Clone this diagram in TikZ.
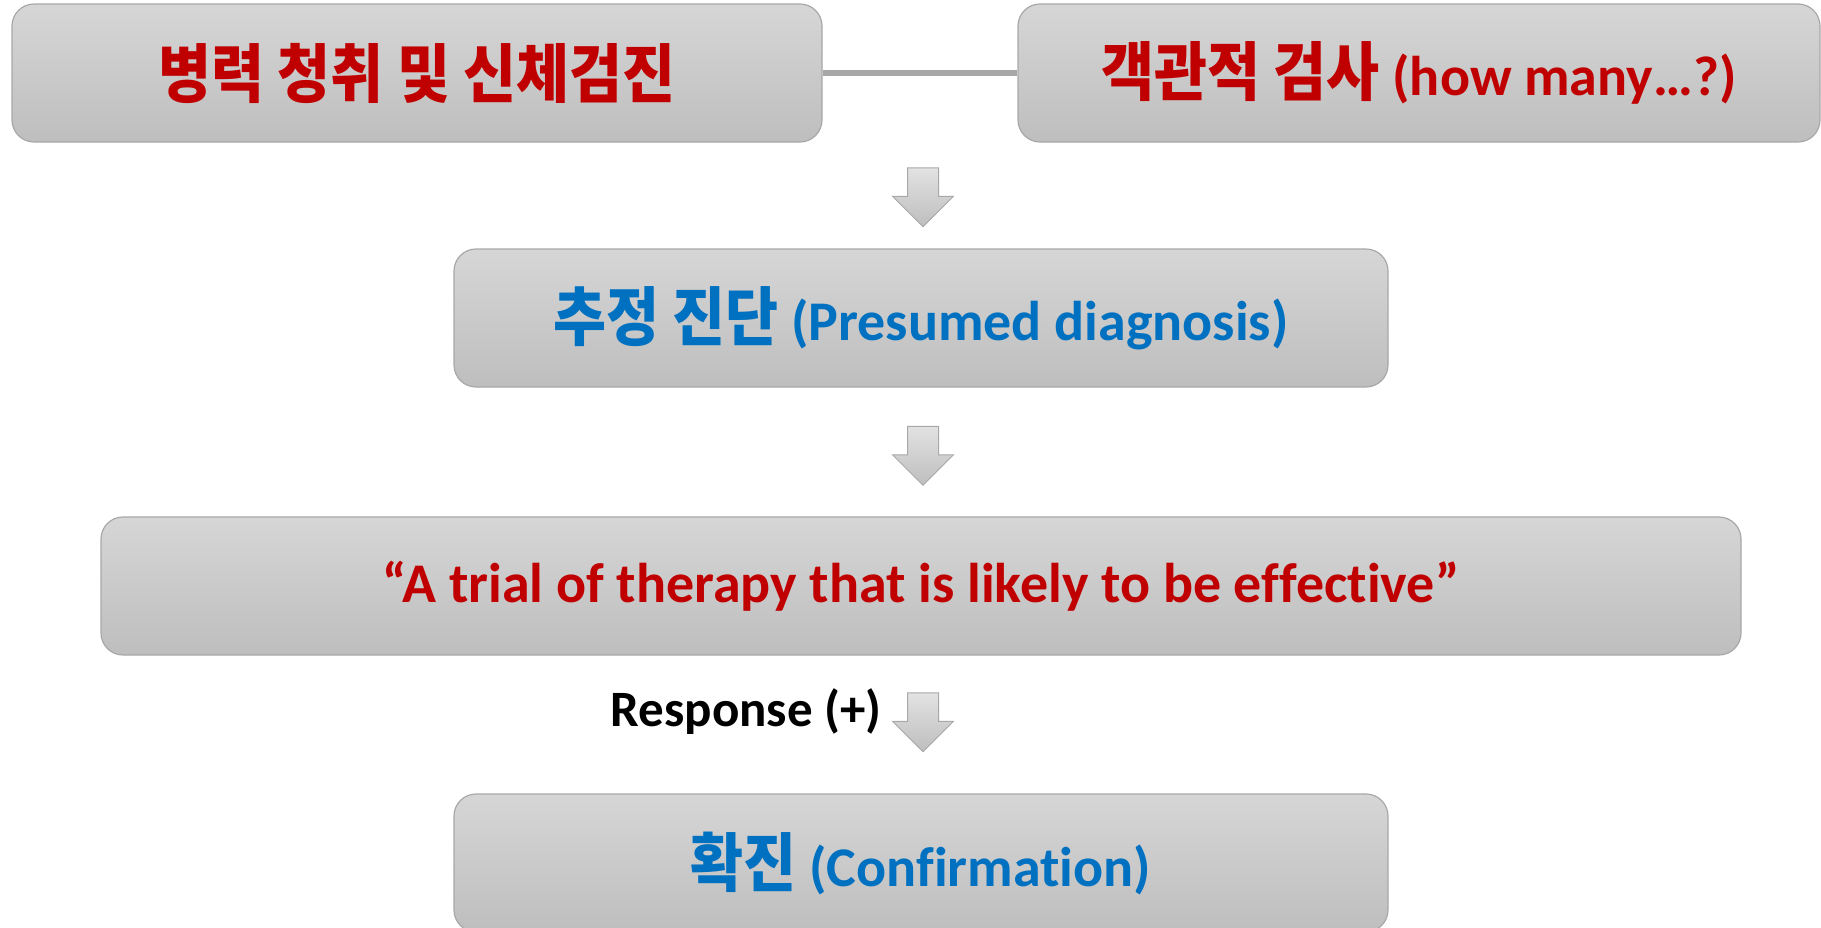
\documentclass[tikz,border=0pt]{standalone}
\usepackage{fontspec}
\setmainfont{Carlito}[Ligatures=NoCommon]
\newfontfamily\kr{Noto Sans CJK KR Bold}[Scale=1.143, FakeStretch=0.9]
\usetikzlibrary{shapes.arrows}
\definecolor{boxtop}{RGB}{214,214,214}
\definecolor{boxbot}{RGB}{190,190,190}
\definecolor{boxline}{RGB}{168,168,168}
\definecolor{krred}{RGB}{192,0,0}
\definecolor{krblue}{RGB}{0,112,192}

\begin{document}
\begin{tikzpicture}[x=0.5pt,y=-0.5pt,
    box/.style={draw=boxline, line width=0.6pt, rounded corners=11pt,
      top color=boxtop, bottom color=boxbot, minimum height=69pt,
      inner sep=0pt, font=\bfseries\fontsize{28}{34}\selectfont},
    down/.style={single arrow, draw=boxline, line width=0.5pt,
      top color=boxtop!70, bottom color=boxbot, shape border rotate=270,
      minimum height=29.5pt, minimum width=30pt, inner sep=7.5pt,
      single arrow head extend=7.5pt, single arrow tip angle=90}]
    \useasboundingbox (0,0) rectangle (1821,927);
		\node[box, minimum width=405pt, text=krred] (hist) at (417,73) {{\kr 병력 청취 및 신체검진}};
		\node[box, minimum width=401pt, text=krred] (exam) at (1419,73) {{\kr 객관적 검사} (how many…?)};
		\node[box, minimum width=467pt, text=krblue] (presumed) at (921,318) {{\kr 추정 진단} (Presumed diagnosis)};
		\node[box, minimum width=820pt, text=krred] (trial) at (921,586) {“A trial of therapy that is likely to be effective”};
		\node[box, minimum width=467pt, text=krblue] (confirm) at (921,863) {{\kr 확진} (Confirmation)};
		\draw[boxline, line width=3pt] (hist) -- (exam);
		\node[down] (arrA) at (923,189.5) {};
		\node[down] (arrB) at (923,448) {};
		\node[down] (arrC) at (923,714.5) {};
		\node[anchor=east, inner sep=0pt, font=\bfseries\fontsize{25.5}{30}\selectfont] (resp) at (882,712) {Response (+)};
	\end{tikzpicture}
\end{document}
